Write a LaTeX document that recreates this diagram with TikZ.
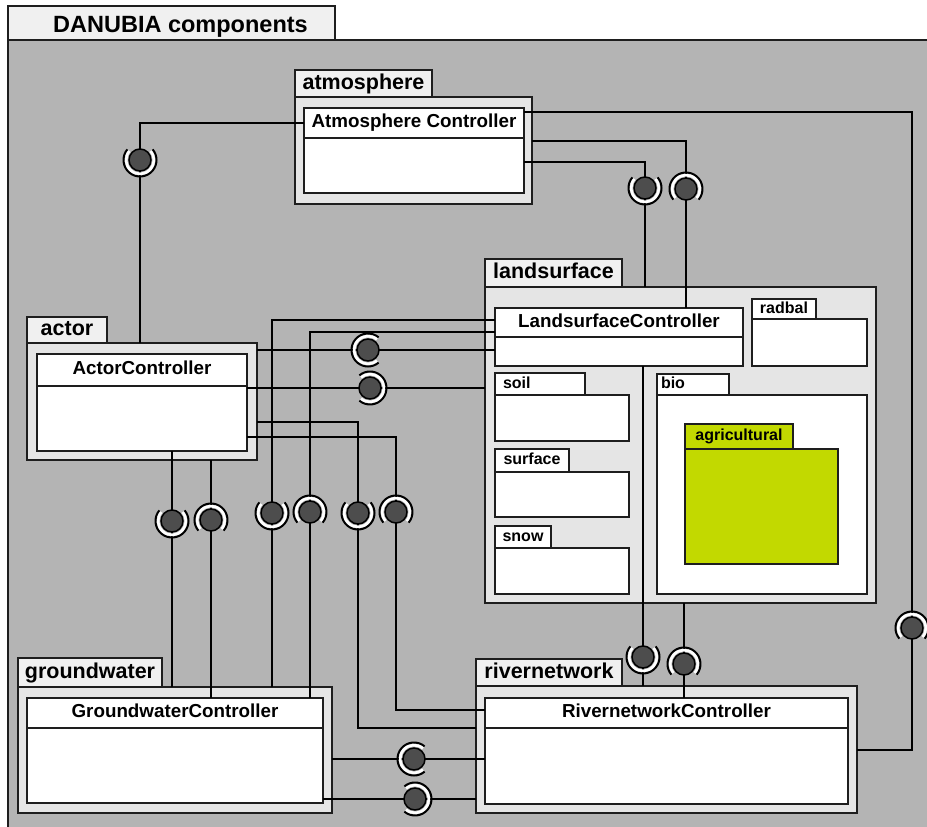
\documentclass[tikz,border=0pt]{standalone}
\usepackage{fontspec}
\setmainfont{Liberation Sans}
\definecolor{canvasgray}{RGB}{180,180,180}
\definecolor{pkgbody}{RGB}{229,229,229}
\definecolor{pkgtab}{RGB}{240,240,240}
\definecolor{ballgray}{RGB}{77,77,77}
\definecolor{agrigreen}{RGB}{194,217,0}
\definecolor{edge}{RGB}{30,30,30}
\tikzset{
  box/.style={draw=edge, line width=1.4pt, inner sep=0pt, outer sep=0pt, anchor=north west},
  bigtab/.style={box, fill=pkgtab, font=\fontsize{21.5pt}{24pt}\selectfont\bfseries, text height=15.5pt, text depth=4.5pt},
  smalltab/.style={box, fill=white, font=\fontsize{16pt}{18pt}\selectfont\bfseries, text height=11.5pt, text depth=3.4pt},
  bigbody/.style={box, fill=pkgbody},
  smallbody/.style={box, fill=white},
  clshead/.style={box, fill=white, font=\fontsize{18.8pt}{21pt}\selectfont\bfseries, text height=13.5pt, text depth=4pt},
  clsbody/.style={box, fill=white},
  wire/.style={draw=black, line width=1.8pt},
  pics/sock/.style={code={
    \draw[black, line width=2pt] (#1+50:16.5pt) arc[start angle=#1+50, delta angle=260, radius=16.5pt];
    \draw[white, line width=2.6pt] (#1+50:13.9pt) arc[start angle=#1+50, delta angle=260, radius=13.9pt];
    \draw[black, line width=1.5pt, fill=ballgray] (0,0) circle[radius=11pt];
  }}
}
\begin{document}
\begin{tikzpicture}[x=1pt,y=-1pt]
\useasboundingbox (0,0) rectangle (927,827);
\fill[white] (0,0) rectangle (927,827);

% outer frame and its title tab
\node[box, fill=canvasgray, minimum width=940pt, minimum height=800pt] (frame) at (8,40) {};
\node[box, fill=pkgtab, minimum width=327pt, minimum height=34pt] (titletab) at (8,6) {};
\node[font=\fontsize{23.5pt}{26pt}\selectfont\bfseries, anchor=base west, inner sep=0pt] (title) at (53,32) {DANUBIA components};

% atmosphere
\node[bigtab, minimum width=137pt, minimum height=27pt] (atmT) at (295,70) {atmosphere};
\node[bigbody, minimum width=237pt, minimum height=107pt] (atmP) at (295,97) {};
\node[clshead, minimum width=220pt, minimum height=30pt] (atmC) at (304,108) {Atmosphere Controller};
\node[clsbody, minimum width=220pt, minimum height=55pt] (atmCb) at (304,138) {};

% actor
\node[bigtab, minimum width=80pt, minimum height=26pt] (actT) at (27,317) {actor};
\node[bigbody, minimum width=230pt, minimum height=117pt] (actP) at (27,343) {};
\node[clshead, minimum width=210pt, minimum height=32pt] (actC) at (37,354) {ActorController};
\node[clsbody, minimum width=210pt, minimum height=65pt] (actCb) at (37,386) {};

% landsurface with its sub-packages
\node[bigtab, minimum width=137pt, minimum height=28pt] (lsT) at (485,259) {landsurface};
\node[bigbody, minimum width=391pt, minimum height=316pt] (lsP) at (485,287) {};
\node[clshead, minimum width=248pt, minimum height=29pt] (lsC) at (495,308) {LandsurfaceController};
\node[clsbody, minimum width=248pt, minimum height=29pt] (lsCb) at (495,337) {};

\node[smalltab, minimum width=64pt, minimum height=20pt] (radT) at (752,299) {radbal};
\node[smallbody, minimum width=115pt, minimum height=47pt] (radP) at (752,319) {};

\node[smalltab, minimum height=22pt, text width=74pt, inner xsep=8pt, align=left] (soilT) at (495,373) {soil};
\node[smallbody, minimum width=134pt, minimum height=46pt] (soilP) at (495,395) {};

\node[smalltab, minimum width=74pt, minimum height=23pt] (surfT) at (495,449) {surface};
\node[smallbody, minimum width=134pt, minimum height=45pt] (surfP) at (495,472) {};

\node[smalltab, minimum width=56pt, minimum height=22pt] (snowT) at (495,526) {snow};
\node[smallbody, minimum width=134pt, minimum height=46pt] (snowP) at (495,548) {};

\node[smalltab, minimum height=21pt, text width=64pt, inner xsep=4pt, align=left] (bioT) at (657,374) {bio};
\node[smallbody, minimum width=210pt, minimum height=199pt] (bioP) at (657,395) {};

\node[smalltab, fill=agrigreen, minimum width=108pt, minimum height=25pt] (agrT) at (685,424) {agricultural};
\node[smallbody, fill=agrigreen, minimum width=153pt, minimum height=115pt] (agrP) at (685,449) {};

% groundwater
\node[bigtab, minimum width=144pt, minimum height=29pt] (grT) at (18,658) {groundwater};
\node[bigbody, minimum width=314pt, minimum height=126pt] (grP) at (18,687) {};
\node[clshead, minimum width=296pt, minimum height=30pt] (grC) at (27,698) {GroundwaterController};
\node[clsbody, minimum width=296pt, minimum height=75pt] (grCb) at (27,728) {};

% rivernetwork
\node[bigtab, minimum width=146pt, minimum height=27pt] (rivT) at (476,659) {rivernetwork};
\node[bigbody, minimum width=381pt, minimum height=127pt] (rivP) at (476,686) {};
\node[clshead, minimum width=363pt, minimum height=30pt] (rivC) at (485,698) {RivernetworkController};
\node[clsbody, minimum width=363pt, minimum height=76pt] (rivCb) at (485,728) {};

% interface positions (ball and socket)
\coordinate (s1) at (140,160);
\coordinate (sA) at (645,188);
\coordinate (sB) at (686,189);
\coordinate (sC) at (368,350);
\coordinate (sD) at (370,388);
\coordinate (sE) at (272,513);
\coordinate (sF) at (310,512);
\coordinate (sG) at (358,513);
\coordinate (sH) at (396,512);
\coordinate (sI) at (172,521);
\coordinate (sJ) at (211,520);
\coordinate (sK) at (643,657);
\coordinate (sL) at (684,664);
\coordinate (sR) at (912,628);
\coordinate (sM) at (414,759);
\coordinate (sN) at (415,799);

% connectors
\draw[wire] (atmC.west) -| (s1) -- (s1 |- actP.north);
\draw[wire] (atmC.east |- 0,112) -| (sR) |- (rivP.east |- 0,750);
\draw[wire] (atmP.east |- 0,141) -| (sB) -- (sB |- lsC.north);
\draw[wire] (atmCb.east |- 0,162) -| (sA) -- (sA |- lsP.north);
\draw[wire] (actP.east |- sC) -- (lsCb.west |- sC);
\draw[wire] (actCb.east |- sD) -- (lsP.west |- sD);
\draw[wire] (lsC.west |- 0,320) -| (sE) -- (sE |- grP.north);
\draw[wire] (lsC.west |- 0,332) -| (sF) -- (sF |- grC.north);
\draw[wire] (actP.east |- 0,422) -| (sG) |- (rivP.west |- 0,728);
\draw[wire] (actCb.east |- 0,437) -| (sH) |- (rivC.west |- 0,710);
\draw[wire] (sI |- actCb.south) -- (sI) -- (sI |- grP.north);
\draw[wire] (sJ |- actP.south) -- (sJ) -- (sJ |- grC.north);
\draw[wire] (sK |- lsCb.south) -- (sK) -- (sK |- rivP.north);
\draw[wire] (sL |- lsP.south) -- (sL) -- (sL |- rivC.north);
\draw[wire] (grP.east |- sM) -- (rivCb.west |- sM);
\draw[wire] (grCb.east |- sN) -- (rivP.west |- sN);

% ball-and-socket symbols (argument: direction the socket opens to)
\pic at (s1) {sock=90};
\pic at (sA) {sock=90};
\pic at (sB) {sock=270};
\pic at (sC) {sock=0};
\pic at (sD) {sock=180};
\pic at (sE) {sock=90};
\pic at (sF) {sock=270};
\pic at (sG) {sock=90};
\pic at (sH) {sock=270};
\pic at (sI) {sock=90};
\pic at (sJ) {sock=270};
\pic at (sK) {sock=90};
\pic at (sL) {sock=270};
\pic at (sR) {sock=270};
\pic at (sM) {sock=0};
\pic at (sN) {sock=180};
\end{tikzpicture}
\end{document}
